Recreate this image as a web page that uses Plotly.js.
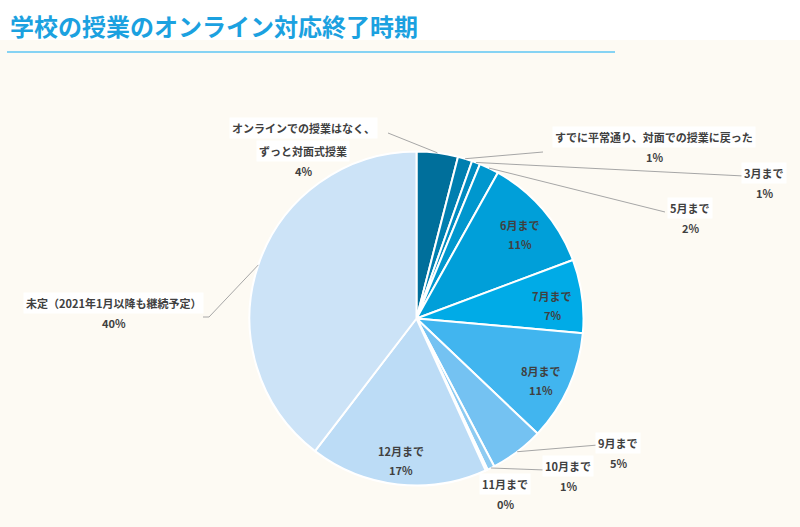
<!DOCTYPE html>
<html><head><meta charset="utf-8">
<script src="https://cdn.plot.ly/plotly-3.0.1.min.js"></script>
<style>html,body{margin:0;padding:0;background:#fdfaf3;}</style>
</head><body><div id="chart" style="width:800px;height:527px;"></div>
<script>
const categories = ['オンラインでの授業はなく、ずっと対面式授業','すでに平常通り、対面での授業に戻った','3月まで','5月まで','6月まで','7月まで','8月まで','9月まで','10月まで','11月まで','12月まで','未定（2021年1月以降も継続予定）'];
const values = [4.0, 1.4, 0.8, 1.9, 11.2, 7.1, 10.7, 5.2, 0.7, 0.2, 17.2, 39.6];
const colors = ['#006f9b','#007fb0','#008bc0','#0097ce','#009fd9','#00abe7','#41b5ef','#74c2f2','#8dcbf2','#a2d3f3','#bcdcf6','#cce3f7'];
// label text lines (display)
const labelLines = [['オンラインでの授業はなく、','ずっと対面式授業'],['すでに平常通り、対面での授業に戻った'],['3月まで'],['5月まで'],['6月まで'],['7月まで'],['8月まで'],['9月まで'],['10月まで'],['11月まで'],['12月まで'],['未定（2021年1月以降も継続予定）']];
// label placement (layout): inside = null; outside = pixel anchor of name line center & leader end
const labelPos = [
  {x:303,y:128,end:[388,133]},
  {x:654,y:137,end:[543,152]},
  {x:764,y:173,end:[744,176]},
  {x:690,y:208,end:[665,212]},
  null,null,null,
  {x:618,y:443,end:[598,445]},
  {x:568,y:466,end:[545,470]},
  {x:505,y:484,end:null},
  null,
  {x:114,y:303,end:[209,317],tail:[203,317]}
];

const W=800,H=527, cx=416.5, cy=318.5, R=167;
const px=x=>x/W, py=y=>1-y/H;
const total = values.reduce((a,b)=>a+b,0);
const fnt = {family:'"Noto Sans CJK JP", "Noto Sans", sans-serif', size:11, color:'#404040'};
const annotations=[], shapes=[];
shapes.push({type:'rect',xref:'paper',yref:'paper',x0:0,x1:1,y0:py(40),y1:1,fillcolor:'#ffffff',line:{width:0},layer:'below'});
shapes.push({type:'line',xref:'paper',yref:'paper',x0:px(7),x1:px(615),y0:py(52),y1:py(52),line:{color:'#86d3f3',width:2}});
let cum=0;
values.forEach((v,i)=>{
  const mid=(cum+v/2)/total*2*Math.PI; cum+=v;
  const pct=Math.round(v/total*100)+'%';
  const lp=labelPos[i];
  if(!lp){
    const r=R*0.82;
    const x=cx+r*Math.sin(mid), y=cy-r*Math.cos(mid);
    annotations.push({xref:'paper',yref:'paper',x:px(x),y:py(y-4),text:'<b>'+labelLines[i][0]+'</b>',showarrow:false,font:fnt,xanchor:'center',yanchor:'middle'});
    annotations.push({xref:'paper',yref:'paper',x:px(x),y:py(y+15),text:'<b>'+pct+'</b>',showarrow:false,font:fnt,xanchor:'center',yanchor:'middle'});
  } else {
    let yy=lp.y;
    labelLines[i].forEach(t=>{
      annotations.push({xref:'paper',yref:'paper',x:px(lp.x),y:py(yy),text:'<b>'+t+'</b>',showarrow:false,font:fnt,xanchor:'center',yanchor:'middle',bgcolor:'#ffffff',borderpad:2});
      yy+=23;
    });
    annotations.push({xref:'paper',yref:'paper',x:px(lp.x),y:py(yy-3),text:'<b>'+pct+'</b>',showarrow:false,font:fnt,xanchor:'center',yanchor:'middle'});
    if(lp.end){
      const ex=cx+R*Math.sin(mid), ey=cy-R*Math.cos(mid);
      let path='M '+px(ex)+' '+py(ey)+' L '+px(lp.end[0])+' '+py(lp.end[1]);
      if(lp.tail) path+=' L '+px(lp.tail[0])+' '+py(lp.tail[1]);
      shapes.push({type:'path',xref:'paper',yref:'paper',path:path,line:{color:'#a6a6a6',width:1}});
    }
  }
});

const data=[{type:'pie',labels:categories,values:values,sort:false,direction:'clockwise',rotation:0,
  marker:{colors:colors,line:{color:'#ffffff',width:2}},textinfo:'none',hoverinfo:'label+percent',
  domain:{x:[px(cx-R),px(cx+R)],y:[py(cy+R),py(cy-R)]}}];
const layout={width:W,height:H,margin:{l:0,r:0,t:0,b:0},paper_bgcolor:'#fdfaf3',plot_bgcolor:'#fdfaf3',showlegend:false,
  title:{text:'<b>学校の授業のオンライン対応終了時期</b>',x:px(10),xanchor:'left',xref:'paper',y:py(28),yanchor:'middle',
    font:{family:'"Noto Sans CJK JP", sans-serif',size:24,color:'#1ba1e0'}},
  annotations:annotations,shapes:shapes};
Plotly.newPlot('chart',data,layout,{displayModeBar:false,staticPlot:true});
</script></body></html>
